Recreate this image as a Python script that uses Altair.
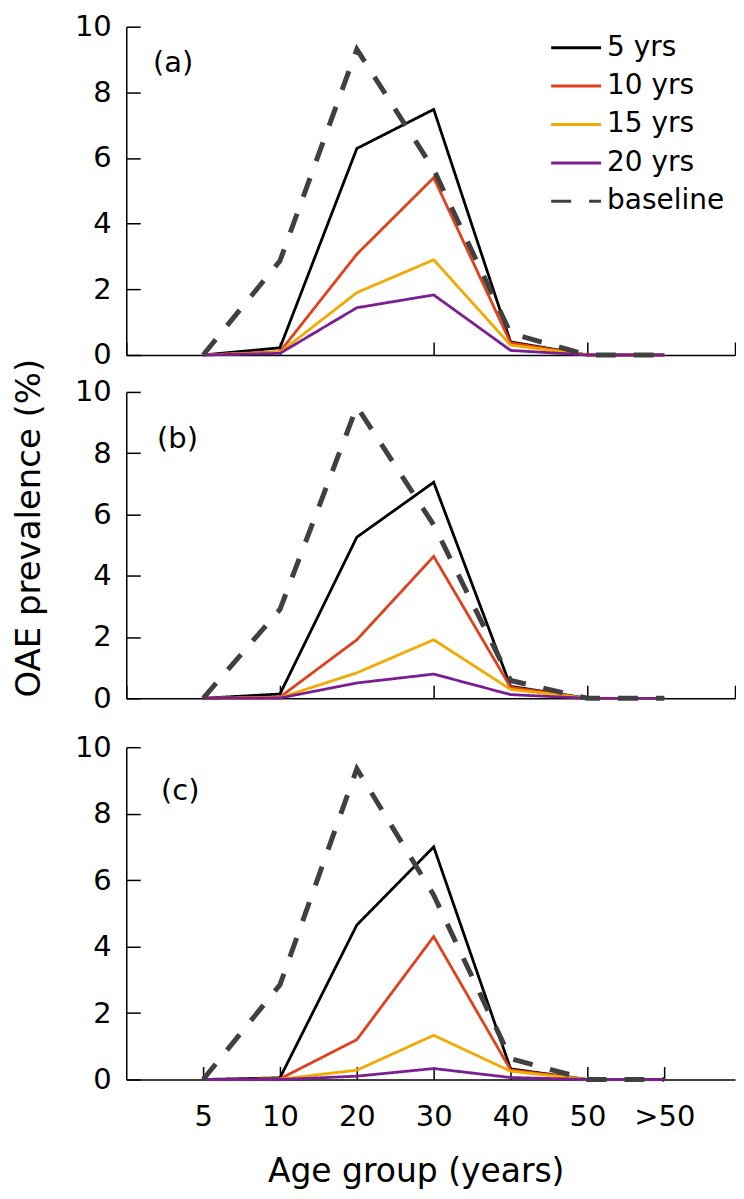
import json
import altair as alt
import pandas as pd

# ---------------- data ----------------
categories = ["5", "10", "20", "30", "40", "50", ">50"]
series_names = ["5 yrs", "10 yrs", "15 yrs", "20 yrs", "baseline"]
series_colors = ["#000000", "#E2401A", "#F2A900", "#7B1E91", "#404040"]
panel_labels = ["(a)", "(b)", "(c)"]
y_ticks = [0, 2, 4, 6, 8, 10]

# panel (a)
a_5yrs = [0.0, 0.22, 6.29, 7.48, 0.40, 0.0, 0.0]
a_10yrs = [0.0, 0.10, 3.07, 5.40, 0.37, 0.0, 0.0]
a_15yrs = [0.0, 0.08, 1.90, 2.90, 0.30, 0.0, 0.0]
a_20yrs = [0.0, 0.05, 1.44, 1.83, 0.14, 0.0, 0.0]
a_baseline = [0.0, 2.87, 9.31, 5.65, 0.66, 0.0, 0.0]
# panel (b)
b_5yrs = [0.0, 0.14, 5.26, 7.05, 0.39, 0.0, 0.0]
b_10yrs = [0.0, 0.04, 1.91, 4.63, 0.36, 0.0, 0.0]
b_15yrs = [0.0, 0.02, 0.83, 1.91, 0.29, 0.0, 0.0]
b_20yrs = [0.0, 0.01, 0.50, 0.79, 0.12, 0.0, 0.0]
b_baseline = [0.0, 2.90, 9.52, 5.66, 0.58, 0.0, 0.0]
# panel (c)
c_5yrs = [0.0, 0.05, 4.65, 7.00, 0.32, 0.0, 0.0]
c_10yrs = [0.0, 0.02, 1.20, 4.30, 0.29, 0.0, 0.0]
c_15yrs = [0.0, 0.01, 0.28, 1.33, 0.25, 0.0, 0.0]
c_20yrs = [0.0, 0.00, 0.10, 0.33, 0.06, 0.0, 0.0]
c_baseline = [0.0, 2.85, 9.35, 5.55, 0.63, 0.0, 0.0]

# ---------------- layout / style ----------------
FONT = "DejaVu Sans"
W = 610
X_END = 7.92
dash_range = [[1, 0], [1, 0], [1, 0], [1, 0], [20, 18]]
label_expr = json.dumps([""] + categories) + "[datum.value]"


def panel_df(series_lists):
    rows = []
    for name, vals in zip(series_names, series_lists):
        for i, (cat, v) in enumerate(zip(categories, vals)):
            rows.append({"series": name, "age": cat, "pos": i + 1, "value": v})
    return pd.DataFrame(rows)


def make_panel(series_lists, height, label, label_x, label_y, is_top, is_bottom, y_title):
    df = panel_df(series_lists)
    df_solid = df[df["series"] != "baseline"]
    df_base = df[df["series"] == "baseline"]

    if is_top:
        leg = alt.Legend(
            title=None, orient="none", legendX=424.3, legendY=3, direction="vertical",
            symbolType="stroke", symbolSize=2500, symbolStrokeWidth=3,
            labelFont=FONT, labelFontSize=28, labelColor="black", labelOffset=4.5,
            rowPadding=2.5, clipHeight=36, padding=0, labelLimit=300,
        )
    else:
        leg = None

    color = alt.Color("series:N", scale=alt.Scale(domain=series_names, range=series_colors), legend=leg)
    dash = alt.StrokeDash("series:N", scale=alt.Scale(domain=series_names, range=dash_range), legend=leg)

    xscale = alt.Scale(domain=[0, X_END], nice=False, zero=False)
    yscale = alt.Scale(domain=[0, 10], nice=False)

    if is_bottom:
        bottom_axis = alt.Axis(
            orient="bottom", ticks=False, tickSize=0, values=list(range(1, len(categories) + 1)),
            labelExpr=label_expr, labelPadding=23, labelFontSize=29, domain=True,
            title="Age group (years)", titleX=290, titleY=76, titleBaseline="top",
            titleAlign="center", titleFontSize=33,
        )
        tick_values = list(range(1, len(categories) + 1))
    else:
        bottom_axis = alt.Axis(orient="bottom", ticks=False, tickSize=0, labels=False, domain=True, title=None)
        tick_values = [0, 2, 4, 6, X_END]

    if y_title:
        left_axis = alt.Axis(
            orient="left", values=y_ticks, ticks=False, tickSize=0, labelPadding=15,
            title=y_title, titleX=-86.5, titleY=136, titleBaseline="alphabetic",
            titleAngle=270, titleAlign="center", titleFontSize=34,
        )
    else:
        left_axis = alt.Axis(orient="left", values=y_ticks, ticks=False, tickSize=0, labelPadding=15, title=None)

    # inward-pointing ticks: a top axis pushed down onto the bottom edge,
    # and a right axis pushed onto the left edge
    top_tick_axis = alt.Axis(orient="top", offset=-height, values=tick_values, tickSize=13,
                             labels=False, domain=False, title=None)
    right_tick_axis = alt.Axis(orient="right", offset=-W, values=y_ticks, tickSize=14,
                               labels=False, domain=False, title=None)

    solid = alt.Chart(df_solid).mark_line(strokeWidth=2.8).encode(
        x=alt.X("pos:Q", scale=xscale, axis=bottom_axis),
        y=alt.Y("value:Q", scale=yscale, axis=left_axis),
        color=color, strokeDash=dash,
    )
    dashed = alt.Chart(df_base).mark_line(strokeWidth=5).encode(
        x=alt.X("pos:Q", scale=xscale, axis=top_tick_axis),
        y=alt.Y("value:Q", scale=yscale, axis=right_tick_axis),
        color=color, strokeDash=dash,
    )
    text = alt.Chart(pd.DataFrame({"label": [label]})).mark_text(
        align="left", baseline="middle", fontSize=29, font=FONT, color="black"
    ).encode(text="label:N", x=alt.value(label_x), y=alt.value(label_y))

    return alt.layer(solid, dashed, text).resolve_axis(x="independent", y="independent").properties(
        width=W, height=height
    )


def spacer(h):
    return alt.Chart(pd.DataFrame({"t": [""]})).mark_text().encode(text="t:N").properties(width=10, height=h)


pa = make_panel([a_5yrs, a_10yrs, a_15yrs, a_20yrs, a_baseline], 329, panel_labels[0], 26.8, 36, True, False, None)
pb = make_panel([b_5yrs, b_10yrs, b_15yrs, b_20yrs, b_baseline], 307, panel_labels[1], 30.8, 47.5, False, False,
                "OAE prevalence (%)")
pc = make_panel([c_5yrs, c_10yrs, c_15yrs, c_20yrs, c_baseline], 333, panel_labels[2], 34.8, 44, False, True, None)

chart = alt.vconcat(pa, spacer(17), pb, spacer(29), pc, spacing=10, bounds="flush").resolve_scale(
    color="independent", strokeDash="independent"
).properties(
    padding={"left": 4.5, "top": 3.5, "right": 0, "bottom": 1.4}
).configure_view(stroke=None).configure_axis(
    grid=False, domainColor="black", domainWidth=1.5, tickColor="black", tickWidth=1.5,
    labelColor="black", labelFont=FONT, labelFontSize=29,
    titleFont=FONT, titleColor="black", titleFontWeight="normal",
)

chart.save("out.html", embed_options={"renderer": "svg", "actions": False})
